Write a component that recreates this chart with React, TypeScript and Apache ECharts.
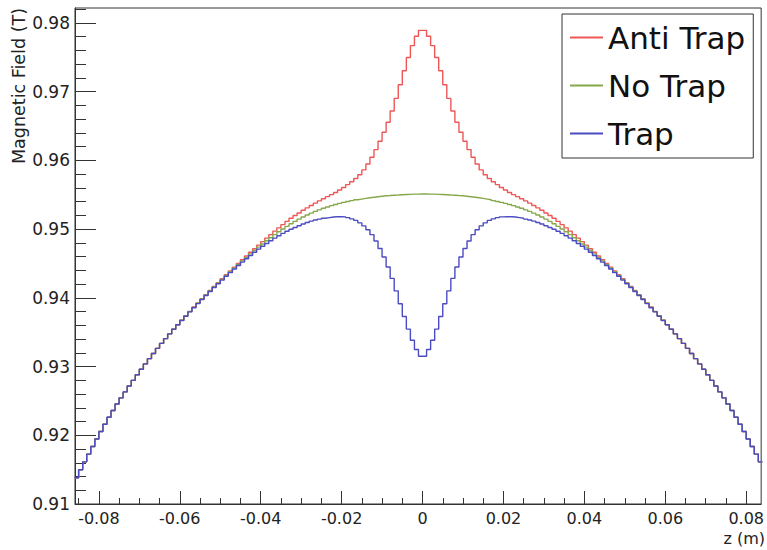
import React, { useEffect, useRef } from "react";
import * as echarts from "echarts";

// Histogram binning (bin lower edge of the first bin and bin width, metres)
const BIN_START = -0.086;
const BIN_WIDTH = 0.001;

// Visible axis range
const X_MIN = -0.0859;
const X_MAX = 0.0837;
const Y_MIN = 0.91;
const Y_MAX = 0.98215;

// ---- No Trap (values read per 1 mm bin), z < 0 then z >= 0 ----
const noTrapLeft = [
  0.91381, 0.91498, 0.91613, 0.91726, 0.91837, 0.91946, 0.92054, 0.9216, 0.92262, 0.9236,
  0.92454, 0.92544, 0.92631, 0.92716, 0.92799, 0.9288, 0.9296, 0.93038, 0.93114, 0.9319,
  0.93264, 0.93336, 0.93406, 0.93474, 0.93542, 0.93608, 0.93672, 0.93736, 0.93798, 0.9386,
  0.9392, 0.9398, 0.9404, 0.94098, 0.94156, 0.94212, 0.94268, 0.94324, 0.94378, 0.94432,
  0.94484, 0.94536, 0.94588, 0.94638, 0.94688, 0.94736, 0.94783, 0.94829, 0.94874, 0.94918,
  0.9496, 0.95, 0.95039, 0.95076, 0.95111, 0.95144, 0.95175, 0.95204, 0.95231, 0.95256,
  0.95279, 0.95301, 0.95321, 0.9534, 0.95357, 0.95373, 0.95387, 0.95401, 0.95413, 0.95425,
  0.95435, 0.95445, 0.95455, 0.95463, 0.9547, 0.95477, 0.95483, 0.95487, 0.95492, 0.95495,
  0.95499, 0.95502, 0.95504, 0.95507, 0.95508, 0.9551,
];
const noTrapRight = [
  0.9551, 0.95508, 0.95507, 0.95504, 0.95502, 0.95499, 0.95495, 0.95492, 0.95487, 0.95483,
  0.95477, 0.9547, 0.95463, 0.95455, 0.95445, 0.95435, 0.95425, 0.95413, 0.95401, 0.95387,
  0.95373, 0.95357, 0.9534, 0.95321, 0.95301, 0.95279, 0.95256, 0.95231, 0.95204, 0.95175,
  0.95144, 0.95111, 0.95076, 0.95039, 0.95, 0.9496, 0.94918, 0.94874, 0.94829, 0.94783,
  0.94736, 0.94688, 0.94638, 0.94588, 0.94536, 0.94484, 0.94432, 0.94378, 0.94324, 0.94268,
  0.94212, 0.94156, 0.94098, 0.9404, 0.9398, 0.9392, 0.9386, 0.93798, 0.93736, 0.93672,
  0.93608, 0.93542, 0.93474, 0.93406, 0.93336, 0.93264, 0.9319, 0.93114, 0.93038, 0.9296,
  0.9288, 0.92799, 0.92716, 0.92631, 0.92544, 0.92454, 0.9236, 0.92262, 0.9216, 0.92054,
  0.91946, 0.91837, 0.91726, 0.91613,
];

// ---- Anti Trap ----
const antiTrapLeft = [
  0.91381, 0.91498, 0.91613, 0.91726, 0.91837, 0.91946, 0.92054, 0.9216, 0.92262, 0.9236,
  0.92454, 0.92544, 0.92631, 0.92716, 0.92799, 0.9288, 0.9296, 0.93038, 0.93114, 0.9319,
  0.93264, 0.93336, 0.93406, 0.93474, 0.93542, 0.93608,
  0.93675, 0.9374, 0.93802, 0.93865, 0.93925, 0.93986, 0.94046, 0.94105, 0.94163, 0.9422,
  0.94279, 0.94336, 0.94391, 0.94446, 0.94499, 0.94553, 0.94608, 0.94661, 0.94714, 0.94765,
  0.94816, 0.94868, 0.94919, 0.94969, 0.95017, 0.95064, 0.95111, 0.95156, 0.95196, 0.95234,
  0.95272, 0.95308, 0.95342, 0.95376, 0.95409, 0.95441, 0.95471, 0.955, 0.95532, 0.95568,
  0.95605, 0.95646, 0.95688, 0.95735, 0.9579, 0.9586, 0.95945, 0.96043, 0.96155, 0.96277,
  0.96408, 0.96552, 0.96717, 0.969, 0.97099, 0.97302, 0.97494, 0.97667, 0.97803, 0.9789,
];
const antiTrapRight = [
  0.9789, 0.97803, 0.97667, 0.97494, 0.97302, 0.97099, 0.969, 0.96717, 0.96552, 0.96408,
  0.96277, 0.96155, 0.96043, 0.95945, 0.9586, 0.9579, 0.95735, 0.95688, 0.95646, 0.95605,
  0.95568, 0.95532, 0.955, 0.95471, 0.95441, 0.95409, 0.95376, 0.95342, 0.95308, 0.95272,
  0.95234, 0.95196, 0.95156, 0.95111, 0.95064, 0.95017, 0.94969, 0.94919, 0.94868, 0.94816,
  0.94765, 0.94714, 0.94661, 0.94608, 0.94553, 0.94499, 0.94446, 0.94391, 0.94336, 0.94279,
  0.9422, 0.94163, 0.94105, 0.94046, 0.93986, 0.93925, 0.93865, 0.93802, 0.9374, 0.93675,
  0.93608, 0.93542, 0.93474, 0.93406, 0.93336, 0.93264, 0.9319, 0.93114, 0.93038, 0.9296,
  0.9288, 0.92799, 0.92716, 0.92631, 0.92544, 0.92454, 0.9236, 0.92262, 0.9216, 0.92054,
  0.91946, 0.91837, 0.91726, 0.91613,
];

// ---- Trap ----
const trapLeft = [
  0.91381, 0.91498, 0.91613, 0.91726, 0.91837, 0.91946, 0.92054, 0.9216, 0.92262, 0.9236,
  0.92454, 0.92544, 0.92631, 0.92716, 0.92799, 0.9288, 0.9296, 0.93038, 0.93114, 0.9319,
  0.93264, 0.93336, 0.93406, 0.93474, 0.93542, 0.93608,
  0.93669, 0.93732, 0.93794, 0.93855, 0.93915, 0.93974, 0.94034, 0.94091, 0.94149, 0.94204,
  0.94257, 0.94312, 0.94365, 0.94418, 0.94469, 0.94519, 0.94568, 0.94615, 0.94662, 0.94707,
  0.9475, 0.9479, 0.94829, 0.94867, 0.94903, 0.94936, 0.94967, 0.94996, 0.95023, 0.95048,
  0.95072, 0.95095, 0.95115, 0.95131, 0.95144, 0.95156, 0.95166, 0.95175, 0.95179, 0.9518,
  0.95177, 0.95166, 0.95148, 0.95125, 0.9509, 0.95045, 0.9499, 0.94918, 0.94825, 0.94717,
  0.94593, 0.94447, 0.94282, 0.941, 0.93914, 0.93727, 0.93544, 0.93382, 0.93248, 0.9315,
];
const trapRight = [
  0.9315, 0.93248, 0.93382, 0.93544, 0.93727, 0.93914, 0.941, 0.94282, 0.94447, 0.94593,
  0.94717, 0.94825, 0.94918, 0.9499, 0.95045, 0.9509, 0.95125, 0.95148, 0.95166, 0.95177,
  0.9518, 0.95179, 0.95175, 0.95166, 0.95156, 0.95144, 0.95131, 0.95115, 0.95095, 0.95072,
  0.95048, 0.95023, 0.94996, 0.94967, 0.94936, 0.94903, 0.94867, 0.94829, 0.9479, 0.9475,
  0.94707, 0.94662, 0.94615, 0.94568, 0.94519, 0.94469, 0.94418, 0.94365, 0.94312, 0.94257,
  0.94204, 0.94149, 0.94091, 0.94034, 0.93974, 0.93915, 0.93855, 0.93794, 0.93732, 0.93669,
  0.93608, 0.93542, 0.93474, 0.93406, 0.93336, 0.93264, 0.9319, 0.93114, 0.93038, 0.9296,
  0.9288, 0.92799, 0.92716, 0.92631, 0.92544, 0.92454, 0.9236, 0.92262, 0.9216, 0.92054,
  0.91946, 0.91837, 0.91726, 0.91613,
];

const seriesNames = ["Anti Trap", "No Trap", "Trap"];
const seriesColors = ["#f05656", "#86a84a", "#4b4bc4"];

// ---- Tick values ----
const xMajorTicks = [-0.08, -0.06, -0.04, -0.02, 0, 0.02, 0.04, 0.06, 0.08];
const xMinorTicks = [
  -0.085, -0.075, -0.07, -0.065, -0.055, -0.05, -0.045, -0.035, -0.03, -0.025,
  -0.015, -0.01, -0.005, 0.005, 0.01, 0.015, 0.025, 0.03, 0.035, 0.045, 0.05,
  0.055, 0.065, 0.07, 0.075,
];
const yMajorTicks = [0.91, 0.92, 0.93, 0.94, 0.95, 0.96, 0.97, 0.98];
const yMinorTicks = [
  0.912, 0.914, 0.916, 0.918, 0.922, 0.924, 0.926, 0.928, 0.932, 0.934, 0.936, 0.938,
  0.942, 0.944, 0.946, 0.948, 0.952, 0.954, 0.956, 0.958, 0.962, 0.964, 0.966, 0.968,
  0.972, 0.974, 0.976, 0.978, 0.982,
];

function toSteps(values: number[]) {
  const pts: number[][] = values.map((v, i) => [
    +(BIN_START + i * BIN_WIDTH).toFixed(4),
    v,
  ]);
  pts.push([
    +(BIN_START + values.length * BIN_WIDTH).toFixed(4),
    values[values.length - 1],
  ]);
  return pts;
}

const AXIS_COLOR = "#333";
const TEXT_COLOR = "#222";
const FONT = "DejaVu Sans";

export default function App() {
  const ref = useRef<HTMLDivElement>(null);

  useEffect(() => {
    if (!ref.current) return;
    const chart = echarts.init(ref.current, undefined, { renderer: "svg" });

    const seriesData = [
      [...antiTrapLeft, ...antiTrapRight],
      [...noTrapLeft, ...noTrapRight],
      [...trapLeft, ...trapRight],
    ];

    const option: any = {
      animation: false,
      backgroundColor: "#fff",
      textStyle: { fontFamily: FONT },
      grid: {
        left: 75,
        right: 2,
        top: 8,
        bottom: 46,
        show: true,
        borderColor: AXIS_COLOR,
        borderWidth: 1,
        backgroundColor: "transparent",
      },
      legend: {
        left: 562,
        top: 14,
        orient: "vertical",
        padding: [8, 8, 9, 8],
        itemGap: 17,
        itemWidth: 33,
        itemHeight: 2,
        icon: "rect",
        backgroundColor: "#fff",
        borderColor: AXIS_COLOR,
        borderWidth: 1,
        borderRadius: 0,
        selectedMode: false,
        data: seriesNames,
        textStyle: { fontSize: 31, color: "#111", fontFamily: FONT },
      },
      xAxis: [
        {
          type: "value",
          min: X_MIN,
          max: X_MAX,
          position: "bottom",
          axisLine: { show: true, onZero: false, lineStyle: { color: AXIS_COLOR, width: 1 } },
          axisTick: {
            show: true,
            inside: true,
            length: 13,
            customValues: xMajorTicks,
            lineStyle: { color: AXIS_COLOR, width: 1 },
          },
          axisLabel: {
            show: true,
            customValues: xMajorTicks,
            formatter: (v: number) => (Math.abs(v) < 1e-9 ? "0" : v.toFixed(2)),
            fontSize: 16,
            color: TEXT_COLOR,
            margin: 6,
            fontFamily: FONT,
          },
          splitLine: { show: false },
        },
        {
          type: "value",
          min: X_MIN,
          max: X_MAX,
          position: "bottom",
          axisLine: { show: false, onZero: false },
          axisTick: {
            show: true,
            inside: true,
            length: 6,
            customValues: xMinorTicks,
            lineStyle: { color: AXIS_COLOR, width: 1 },
          },
          axisLabel: { show: false },
          splitLine: { show: false },
        },
      ],
      yAxis: [
        {
          type: "value",
          min: Y_MIN,
          max: Y_MAX,
          position: "left",
          axisLine: { show: true, onZero: false, lineStyle: { color: AXIS_COLOR, width: 1 } },
          axisTick: {
            show: true,
            inside: true,
            length: 21,
            customValues: yMajorTicks,
            lineStyle: { color: AXIS_COLOR, width: 1 },
          },
          axisLabel: {
            show: true,
            customValues: yMajorTicks,
            formatter: (v: number) => v.toFixed(2),
            fontSize: 17,
            color: TEXT_COLOR,
            margin: 5,
            fontFamily: FONT,
          },
          splitLine: { show: false },
        },
        {
          type: "value",
          min: Y_MIN,
          max: Y_MAX,
          position: "left",
          axisLine: { show: false, onZero: false },
          axisTick: {
            show: true,
            inside: true,
            length: 11,
            customValues: yMinorTicks,
            lineStyle: { color: AXIS_COLOR, width: 1 },
          },
          axisLabel: { show: false },
          splitLine: { show: false },
        },
      ],
      series: seriesNames.map((name, i) => ({
        name,
        type: "line",
        xAxisIndex: 0,
        yAxisIndex: 0,
        step: "end",
        showSymbol: false,
        symbol: "none",
        silent: true,
        clip: true,
        color: seriesColors[i],
        lineStyle: { color: seriesColors[i], width: 1.4 },
        itemStyle: { color: seriesColors[i] },
        data: toSteps(seriesData[i]),
      })),
      graphic: [
        {
          type: "text",
          x: 19,
          y: 8,
          rotation: Math.PI / 2,
          style: {
            text: "Magnetic Field (T)",
            fontSize: 17.5,
            fontFamily: FONT,
            fill: TEXT_COLOR,
            align: "right",
            verticalAlign: "middle",
          },
        },
        {
          type: "text",
          x: 765,
          y: 538,
          style: {
            text: "z (m)",
            fontSize: 16,
            fontFamily: FONT,
            fill: TEXT_COLOR,
            align: "right",
            verticalAlign: "middle",
          },
        },
      ],
    };

    chart.setOption(option);
    return () => chart.dispose();
  }, []);

  return (
    <div
      ref={ref}
      style={{
        position: "fixed",
        left: 0,
        top: 0,
        width: 767,
        height: 550,
        background: "#fff",
      }}
    />
  );
}
